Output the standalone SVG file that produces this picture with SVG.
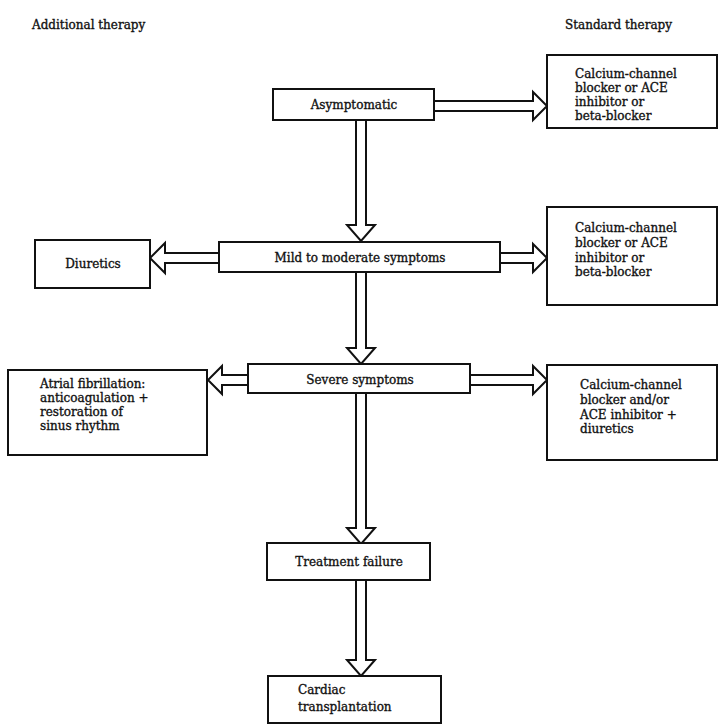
<svg xmlns="http://www.w3.org/2000/svg" width="720" height="728" viewBox="0 0 720 728">
<style>
text{font-family:"DejaVu Serif","Liberation Serif",serif;font-size:12px;fill:#111;stroke:#111;stroke-width:0.35}
.box{fill:#fff;stroke:#111;stroke-width:2}
.arr{fill:#fff;stroke:#111;stroke-width:2;stroke-linejoin:miter}
.c{text-anchor:middle}
</style>
<rect width="720" height="728" fill="#fff"/>
<text x="32" y="29">Additional therapy</text>
<text x="565" y="29">Standard therapy</text>
<g id="connectors">
<path class="arr" d="M356,120 L356,225 L347,225 L361,241 L375,225 L366,225 L366,120"/>
<path class="arr" d="M434,101 L533,101 L533,92 L547,106 L533,120 L533,111 L434,111"/>
<path class="arr" d="M219,253 L165,253 L165,243 L150,258 L165,273 L165,263 L219,263"/>
<path class="arr" d="M500,253 L533,253 L533,244 L547,258 L533,272 L533,263 L500,263"/>
<path class="arr" d="M356,272 L356,348 L347,348 L361,364 L375,348 L366,348 L366,272"/>
<path class="arr" d="M248,375 L222,375 L222,366 L208,380 L222,394 L222,385 L248,385"/>
<path class="arr" d="M470,375 L533,375 L533,366 L547,380 L533,394 L533,385 L470,385"/>
<path class="arr" d="M356,393 L356,528 L347,528 L361,544 L375,528 L366,528 L366,393"/>
<path class="arr" d="M356,580 L356,660 L347,660 L361,676 L375,660 L366,660 L366,580"/>
</g>
<g id="asymptomatic"><rect class="box" x="273" y="89" width="161" height="31"/><text class="c" x="354" y="109">Asymptomatic</text></g>
<g id="std1"><rect class="box" x="547" y="55" width="170" height="73"/>
<text x="575" y="78">Calcium-channel</text><text x="575" y="92">blocker or ACE</text><text x="575" y="106">inhibitor or</text><text x="575" y="120">beta-blocker</text></g>
<g id="mild"><rect class="box" x="219" y="242" width="281" height="30"/><text class="c" x="360" y="262">Mild to moderate symptoms</text></g>
<g id="diuretics"><rect class="box" x="35" y="240" width="115" height="48"/><text class="c" x="93" y="268">Diuretics</text></g>
<g id="std2"><rect class="box" x="547" y="207" width="170" height="98"/>
<text x="575" y="232">Calcium-channel</text><text x="575" y="247">blocker or ACE</text><text x="575" y="262">inhibitor or</text><text x="575" y="276">beta-blocker</text></g>
<g id="severe"><rect class="box" x="248" y="364" width="222" height="29"/><text class="c" x="360" y="384">Severe symptoms</text></g>
<g id="atrial"><rect class="box" x="8" y="370" width="199" height="85"/>
<text x="40" y="388">Atrial fibrillation:</text><text x="40" y="402">anticoagulation +</text><text x="40" y="416">restoration of</text><text x="40" y="430">sinus rhythm</text></g>
<g id="std3"><rect class="box" x="547" y="365" width="170" height="95"/>
<text x="580" y="389">Calcium-channel</text><text x="580" y="404">blocker and/or</text><text x="580" y="419">ACE inhibitor +</text><text x="580" y="433">diuretics</text></g>
<g id="failure"><rect class="box" x="267" y="543" width="163" height="37"/><text class="c" x="349" y="566">Treatment failure</text></g>
<g id="cardiac"><rect class="box" x="268" y="676" width="173" height="47"/>
<text x="298" y="694">Cardiac</text><text x="298" y="711">transplantation</text></g>
</svg>
